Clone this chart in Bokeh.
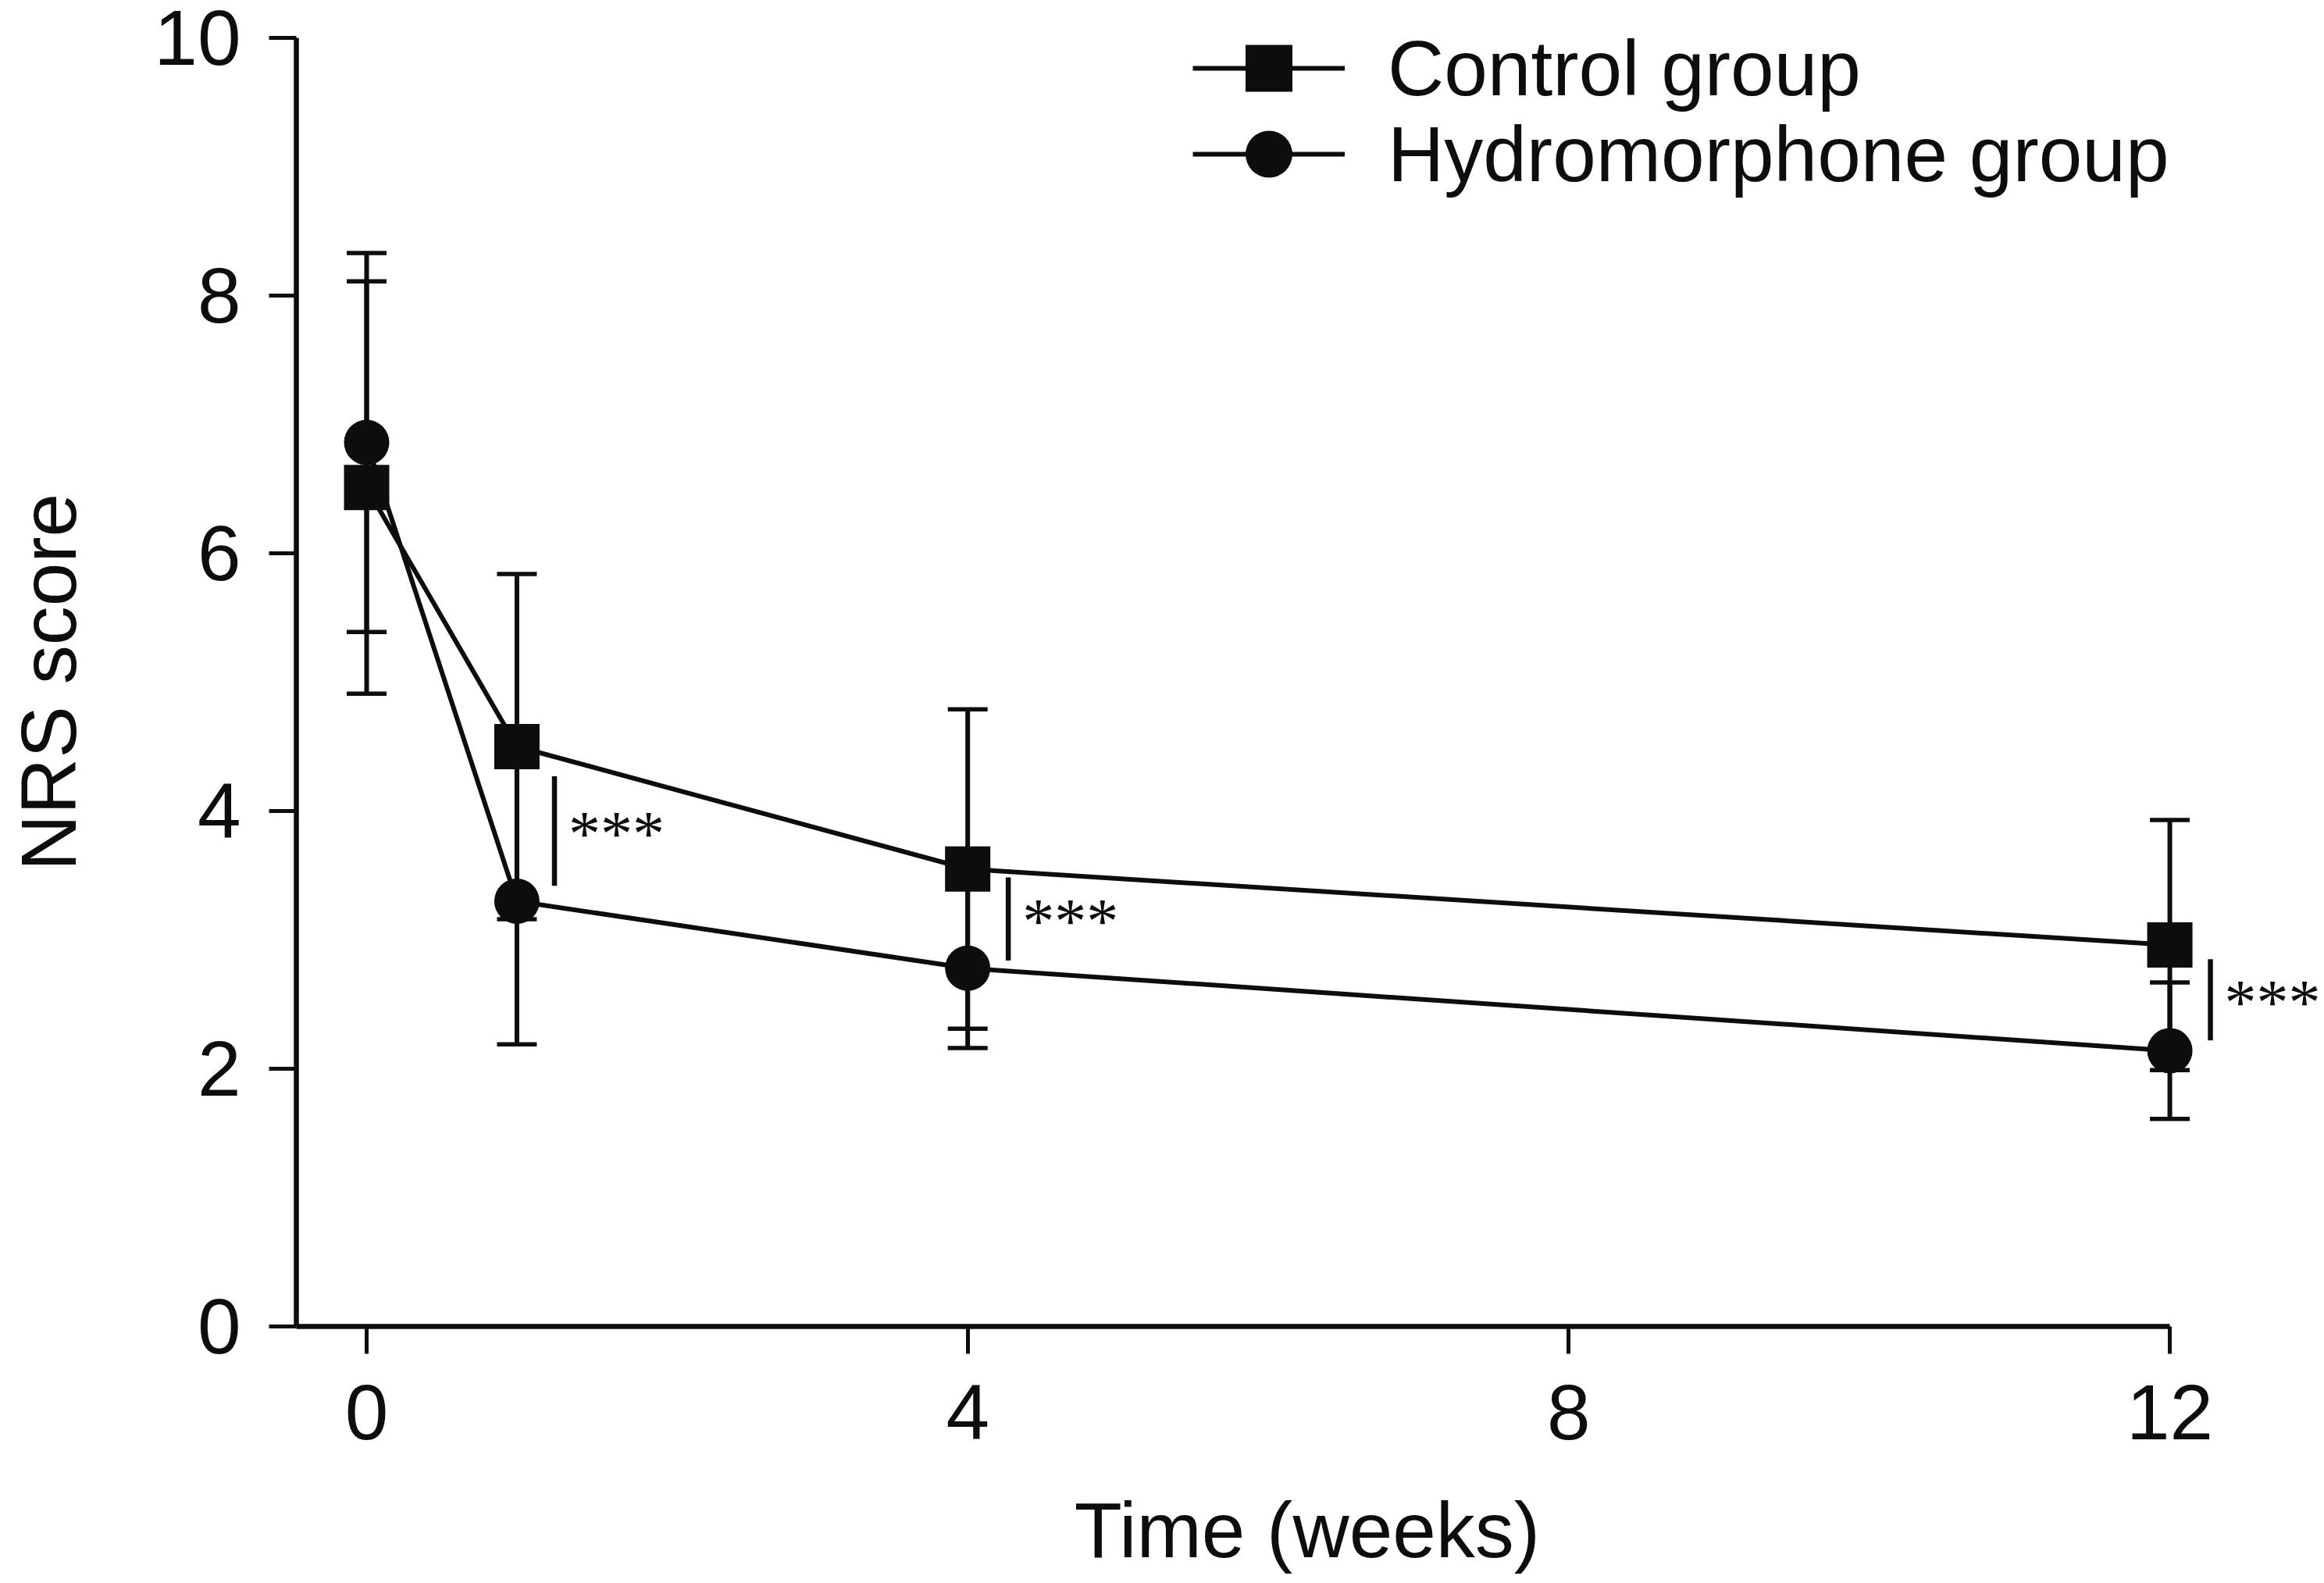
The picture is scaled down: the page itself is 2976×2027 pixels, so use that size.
from bokeh.plotting import figure
from bokeh.models import (Whisker, TeeHead, ColumnDataSource, Legend, LegendItem,
                          FixedTicker, Range1d, LabelSet)
from bokeh.embed import file_html
from bokeh.resources import INLINE

# ---- data ----
weeks = [0, 1, 4, 12]
control_mean = [6.51, 4.50, 3.55, 2.96]
control_sd = [1.60, 1.34, 1.24, 0.97]
hydro_mean = [6.86, 3.30, 2.78, 2.14]
hydro_sd = [1.47, 1.11, 0.62, 0.53]

sig_x = [1.25, 4.27, 12.27]
sig_low = [3.42, 2.84, 2.22]
sig_high = [4.27, 3.485, 2.85]
sig_text = ["***", "***", "***"]

x_ticks = [0, 4, 8, 12]
y_ticks = [0, 2, 4, 6, 8, 10]

INK = "#0d0d0d"
FONT = "Liberation Sans"
STAR_FONT = "Roboto Black"

ctrl = ColumnDataSource(dict(
    x=weeks, y=control_mean,
    upper=[m + s for m, s in zip(control_mean, control_sd)],
    lower=[m - s for m, s in zip(control_mean, control_sd)]))
hyd = ColumnDataSource(dict(
    x=weeks, y=hydro_mean,
    upper=[m + s for m, s in zip(hydro_mean, hydro_sd)],
    lower=[m - s for m, s in zip(hydro_mean, hydro_sd)]))
sig = ColumnDataSource(dict(
    x=sig_x, y0=sig_low, y1=sig_high,
    ym=[(a + b) / 2 for a, b in zip(sig_low, sig_high)], t=sig_text))

p = figure(width=2968, height=2024, output_backend="svg", toolbar_location=None,
           x_range=Range1d(-0.4677, 12.987), y_range=Range1d(0, 10),
           min_border_left=379, min_border_right=0, min_border_top=48,
           min_border_bottom=326)
p.outline_line_color = None
p.xgrid.visible = False
p.ygrid.visible = False

for ax in (p.xaxis[0], p.yaxis[0]):
    ax.axis_line_width = 6.5
    ax.axis_line_color = INK
    ax.major_tick_line_width = 5
    ax.major_tick_line_color = INK
    ax.major_tick_out = 35
    ax.major_tick_in = 0
    ax.minor_tick_out = 0
    ax.minor_tick_in = 0
    ax.major_label_text_font = FONT
    ax.major_label_text_font_size = "100px"
    ax.major_label_text_color = INK
    ax.axis_label_text_font = FONT
    ax.axis_label_text_font_size = "100px"
    ax.axis_label_text_font_style = "normal"
    ax.axis_label_text_color = INK

p.xaxis[0].ticker = FixedTicker(ticks=x_ticks)
p.yaxis[0].ticker = FixedTicker(ticks=y_ticks)
p.xaxis[0].bounds = (-0.4677, 12)
p.yaxis[0].bounds = (0, 10)
p.xaxis[0].major_label_standoff = 40
p.yaxis[0].major_label_standoff = 36
p.xaxis[0].axis_label = "Time (weeks)"
p.yaxis[0].axis_label = "NRS score"
p.xaxis[0].axis_label_standoff = 57
p.yaxis[0].axis_label_standoff = 76

# error bars
for src in (ctrl, hyd):
    w = Whisker(source=src, base="x", upper="upper", lower="lower", dimension="height",
                line_width=6, line_color=INK, level="underlay",
                upper_head=TeeHead(size=51, line_width=5.5, line_color=INK),
                lower_head=TeeHead(size=51, line_width=5.5, line_color=INK))
    p.add_layout(w)

lc = p.line("x", "y", source=ctrl, line_width=6, line_color=INK)
lh = p.line("x", "y", source=hyd, line_width=6, line_color=INK)
sh = p.scatter("x", "y", source=hyd, marker="circle", size=58, fill_color=INK, line_color=None)
sc = p.scatter("x", "y", source=ctrl, marker="square", size=58, fill_color=INK, line_color=None)

# significance bars
p.segment(x0="x", y0="y0", x1="x", y1="y1", source=sig, line_width=6.5, line_color=INK)

def make_legend(label, rends, loc):
    return Legend(items=[LegendItem(label=label, renderers=rends)],
                  location=loc, orientation="vertical",
                  glyph_width=195, glyph_height=150, spacing=0,
                  label_standoff=55, label_text_font=FONT, label_text_font_size="100px",
                  label_text_color=INK, padding=0, margin=0,
                  border_line_color=None, background_fill_alpha=0)

p.add_layout(make_legend("Control group", [lc, sc], (1148, 1536)))
p.add_layout(make_legend("Hydromorphone group", [lh, sh], (1148, 1426)))

# significance stars
stars = LabelSet(x="x", y="ym", text="t", source=sig, x_offset=18, y_offset=-3,
                 text_font=STAR_FONT, text_font_size="82px", text_font_style="normal",
                 text_color=INK, text_baseline="middle", text_align="left")
p.add_layout(stars)

open("out.html", "w").write(file_html(p, INLINE))
